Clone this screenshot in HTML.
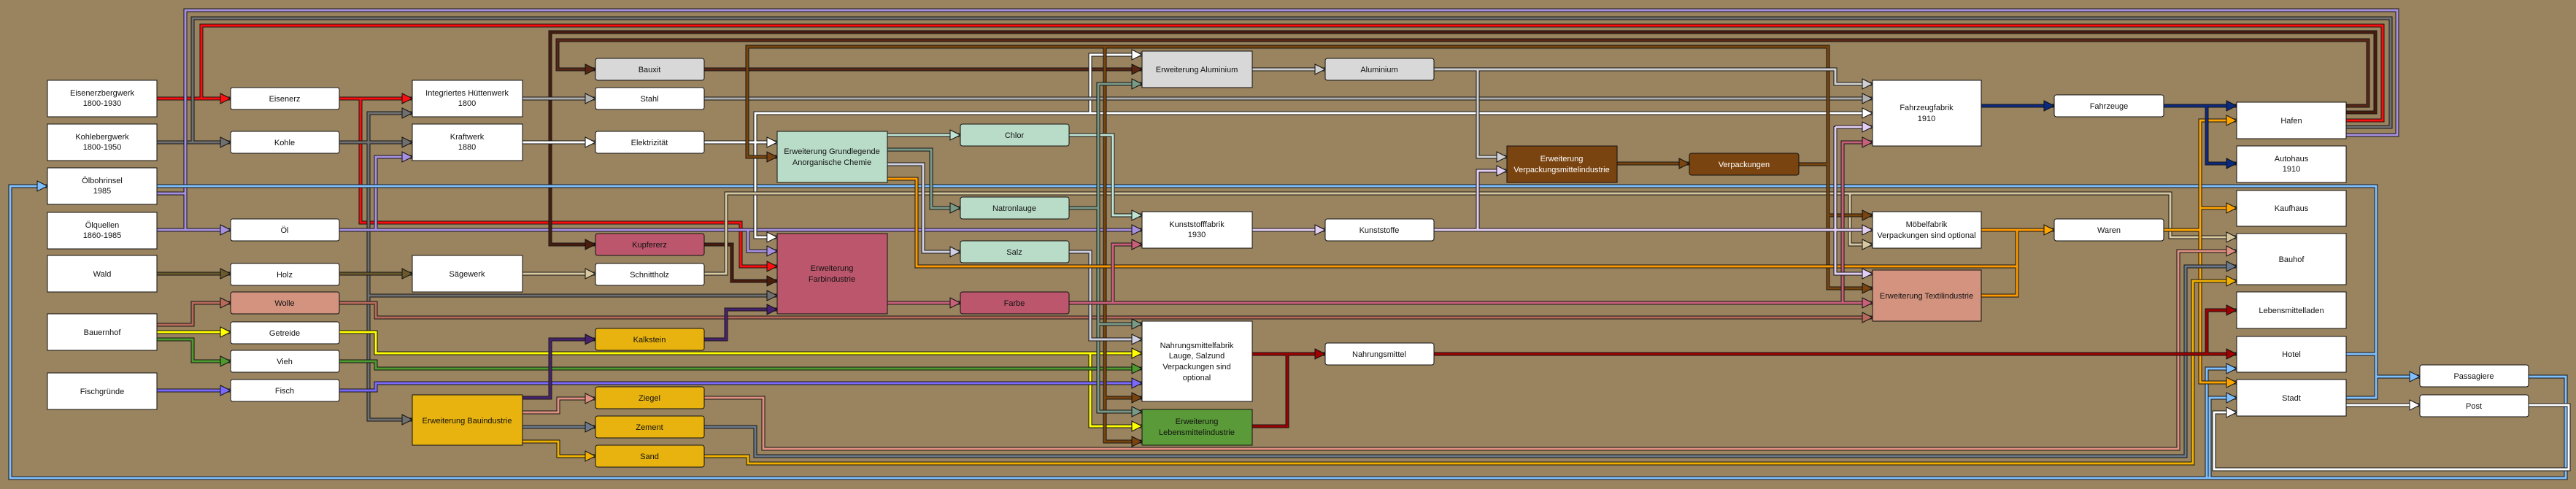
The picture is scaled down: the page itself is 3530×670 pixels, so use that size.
<!DOCTYPE html>
<html><head><meta charset="utf-8"><style>
html,body{margin:0;padding:0;background:#9a845f;}
svg{display:block}
.e path{fill:none;stroke-width:3;filter:url(#ol);stroke-linejoin:miter}
.a polygon{stroke:#111;stroke-width:1}
text{font-family:"Liberation Sans",sans-serif;font-size:11px;text-anchor:middle;fill:#111}
.n rect{stroke:#111;stroke-width:1}
.w{fill:#fff}
</style></head><body>
<svg width="3530" height="670" viewBox="0 0 3530 670" xmlns="http://www.w3.org/2000/svg">
<defs>
<filter id="ol" filterUnits="userSpaceOnUse" x="0" y="0" width="3530" height="670">
<feMorphology in="SourceAlpha" operator="dilate" radius="1" result="d"/>
<feFlood flood-color="#151515"/>
<feComposite in2="d" operator="in" result="o"/>
<feMerge><feMergeNode in="o"/><feMergeNode in="SourceGraphic"/></feMerge>
</filter>
</defs>
<rect width="3530" height="670" fill="#9a845f"/>
<g class="e">
<path stroke="#ff1010" d="M215 135H316M3215 165H3265V35H276V135M465 135H565M494 135V305H1015V365H1065"/>
<path stroke="#707070" d="M215 195H316M3215 174H3276V25H264V195M465 195H565M505 195V155H565M505 195V575H565M505 405H1065"/>
<path stroke="#a890e0" d="M3215 185H3285V14H254V315M215 265H254M215 315H316M465 315H1565M515 315V215H565M1025 315V344H1065"/>
<path stroke="#5a2614" d="M3215 145H3245V55H764V95H816M965 95H1565"/>
<path stroke="#4a1c0c" d="M3215 154H3255V44H754V335H816M965 335H1003V385H1065"/>
<path stroke="#80c0ff" d="M215 255H3256V545H3215M3256 516H3316M3215 485H3256M3465 516H3516V655H14V255H65M3024 655V505H3065M3028 655V545H3065"/>
<path stroke="#ffffff" d="M3215 555H3316M3465 555H3520V643H3034V565H3065M716 195H816M965 195H1065M1035 195V155H2566M1035 195V325H1065M1494 155V75H1565"/>
<path stroke="#6b5a2e" d="M215 375H316M465 375H565"/>
<path stroke="#d8c8a0" d="M716 375H816M965 375H995V265H2974V325H3065M2535 265V335H2566"/>
<path stroke="#b86a5a" d="M215 445H264V415H316M465 415H515V435H2566"/>
<path stroke="#ffff00" d="M215 455H316M465 455H515V484H1565M1494 484V584H1565"/>
<path stroke="#4f9a2f" d="M215 465H264V495H316M465 495H515V505H1565"/>
<path stroke="#7a6aff" d="M215 535H316M465 535H515V525H1565"/>
<path stroke="#b0b0b0" d="M716 135H816M965 135H2566"/>
<path stroke="#7a4410" d="M2216 224H2315M2465 225H2505V64H1024V215H1065M2505 225V395H2566M2505 295H2566M1514 64V605H1565M1514 545H1565"/>
<path stroke="#c0e4d4" d="M1216 185H1316M1465 185H1525V295H1565"/>
<path stroke="#7a9a88" d="M1216 205H1276V285H1316M1465 285H1505V115H1565M1505 285V564H1565M1505 444H1565"/>
<path stroke="#d0d0e0" d="M1216 225H1265V345H1316M1465 345H1494V465H1565"/>
<path stroke="#ff9900" d="M1216 245H1256V365H2764V315H2815M2715 315H2764M2715 405H2764V365"/>
<path stroke="#ffa500" d="M2965 315H3015V165H3065M3015 285H3065M3015 315V524H3065"/>
<path stroke="#c8607a" d="M1216 415H1316M1465 415H2566M1525 415V335H1565M2525 415V195H2566"/>
<path stroke="#4a2070" d="M965 465H995V424H1065M716 545H754V465H816"/>
<path stroke="#e09080" d="M716 565H765V546H816M965 545H1046V615H2985V344H3065"/>
<path stroke="#6a7888" d="M716 585H816M965 585H1035V625H2995V365H3065"/>
<path stroke="#f0b000" d="M716 605H765V625H816M965 625H1025V635H3005V385H3065"/>
<path stroke="#d0d0d0" d="M1716 95H1816M1965 95H2515V115H2566M2025 95V215H2065"/>
<path stroke="#e4cff4" d="M1716 315H1816M1965 315H2566M2025 315V234H2065M2515 174V375H2566M2515 174H2566"/>
<path stroke="#a00000" d="M1716 485H1816M1716 584H1764V485M1965 485H3065M3024 485V425H3065"/>
<path stroke="#0a2a80" d="M2715 145H2815M2965 145H3065M3024 145V224H3065"/>
</g>
<g class="a">
<!-- arrows: tip x,y -->
<polygon fill="#ff1010" points="302,128 316,135 302,142"/>
<polygon fill="#ff1010" points="551,128 565,135 551,142"/>
<polygon fill="#ff1010" points="1051,358 1065,365 1051,372"/>
<polygon fill="#707070" points="302,188 316,195 302,202"/>
<polygon fill="#707070" points="551,188 565,195 551,202"/>
<polygon fill="#707070" points="551,148 565,155 551,162"/>
<polygon fill="#707070" points="551,568 565,575 551,582"/>
<polygon fill="#707070" points="1051,398 1065,405 1051,412"/>
<polygon fill="#a890e0" points="302,308 316,315 302,322"/>
<polygon fill="#a890e0" points="1551,308 1565,315 1551,322"/>
<polygon fill="#a890e0" points="551,208 565,215 551,222"/>
<polygon fill="#a890e0" points="1051,337 1065,344 1051,351"/>
<polygon fill="#5a2614" points="802,88 816,95 802,102"/>
<polygon fill="#5a2614" points="1551,88 1565,95 1551,102"/>
<polygon fill="#4a1c0c" points="802,328 816,335 802,342"/>
<polygon fill="#4a1c0c" points="1051,378 1065,385 1051,392"/>
<polygon fill="#80c0ff" points="51,248 65,255 51,262"/>
<polygon fill="#80c0ff" points="3302,509 3316,516 3302,523"/>
<polygon fill="#80c0ff" points="3051,498 3065,505 3051,512"/>
<polygon fill="#80c0ff" points="3051,538 3065,545 3051,552"/>
<polygon fill="#ffffff" points="3302,548 3316,555 3302,562"/>
<polygon fill="#ffffff" points="3051,558 3065,565 3051,572"/>
<polygon fill="#ffffff" points="802,188 816,195 802,202"/>
<polygon fill="#ffffff" points="1051,188 1065,195 1051,202"/>
<polygon fill="#ffffff" points="2552,148 2566,155 2552,162"/>
<polygon fill="#ffffff" points="1051,318 1065,325 1051,332"/>
<polygon fill="#ffffff" points="1551,68 1565,75 1551,82"/>
<polygon fill="#6b5a2e" points="302,368 316,375 302,382"/>
<polygon fill="#6b5a2e" points="551,368 565,375 551,382"/>
<polygon fill="#d8c8a0" points="802,368 816,375 802,382"/>
<polygon fill="#d8c8a0" points="3051,318 3065,325 3051,332"/>
<polygon fill="#d8c8a0" points="2552,328 2566,335 2552,342"/>
<polygon fill="#b86a5a" points="302,408 316,415 302,422"/>
<polygon fill="#b86a5a" points="2552,428 2566,435 2552,442"/>
<polygon fill="#ffff00" points="302,448 316,455 302,462"/>
<polygon fill="#ffff00" points="1551,477 1565,484 1551,491"/>
<polygon fill="#ffff00" points="1551,577 1565,584 1551,591"/>
<polygon fill="#4f9a2f" points="302,488 316,495 302,502"/>
<polygon fill="#4f9a2f" points="1551,498 1565,505 1551,512"/>
<polygon fill="#7a6aff" points="302,528 316,535 302,542"/>
<polygon fill="#7a6aff" points="1551,518 1565,525 1551,532"/>
<polygon fill="#b0b0b0" points="802,128 816,135 802,142"/>
<polygon fill="#b0b0b0" points="2552,128 2566,135 2552,142"/>
<polygon fill="#7a4410" points="2301,217 2315,224 2301,231"/>
<polygon fill="#7a4410" points="1051,208 1065,215 1051,222"/>
<polygon fill="#7a4410" points="2552,388 2566,395 2552,402"/>
<polygon fill="#7a4410" points="2552,288 2566,295 2552,302"/>
<polygon fill="#7a4410" points="1551,598 1565,605 1551,612"/>
<polygon fill="#7a4410" points="1551,538 1565,545 1551,552"/>
<polygon fill="#c0e4d4" points="1302,178 1316,185 1302,192"/>
<polygon fill="#c0e4d4" points="1551,288 1565,295 1551,302"/>
<polygon fill="#7a9a88" points="1302,278 1316,285 1302,292"/>
<polygon fill="#7a9a88" points="1551,108 1565,115 1551,122"/>
<polygon fill="#7a9a88" points="1551,557 1565,564 1551,571"/>
<polygon fill="#7a9a88" points="1551,437 1565,444 1551,451"/>
<polygon fill="#d0d0e0" points="1302,338 1316,345 1302,352"/>
<polygon fill="#d0d0e0" points="1551,458 1565,465 1551,472"/>
<polygon fill="#ffa500" points="2801,308 2815,315 2801,322"/>
<polygon fill="#ffa500" points="3051,158 3065,165 3051,172"/>
<polygon fill="#ffa500" points="3051,278 3065,285 3051,292"/>
<polygon fill="#ffa500" points="3051,517 3065,524 3051,531"/>
<polygon fill="#c8607a" points="1302,408 1316,415 1302,422"/>
<polygon fill="#c8607a" points="2552,408 2566,415 2552,422"/>
<polygon fill="#c8607a" points="1551,328 1565,335 1551,342"/>
<polygon fill="#c8607a" points="2552,188 2566,195 2552,202"/>
<polygon fill="#4a2070" points="1051,417 1065,424 1051,431"/>
<polygon fill="#4a2070" points="802,458 816,465 802,472"/>
<polygon fill="#e09080" points="802,539 816,546 802,553"/>
<polygon fill="#e09080" points="3051,337 3065,344 3051,351"/>
<polygon fill="#6a7888" points="802,578 816,585 802,592"/>
<polygon fill="#6a7888" points="3051,358 3065,365 3051,372"/>
<polygon fill="#f0b000" points="802,618 816,625 802,632"/>
<polygon fill="#f0b000" points="3051,378 3065,385 3051,392"/>
<polygon fill="#d0d0d0" points="1802,88 1816,95 1802,102"/>
<polygon fill="#d0d0d0" points="2552,108 2566,115 2552,122"/>
<polygon fill="#d0d0d0" points="2051,208 2065,215 2051,222"/>
<polygon fill="#e4cff4" points="1802,308 1816,315 1802,322"/>
<polygon fill="#e4cff4" points="2552,308 2566,315 2552,322"/>
<polygon fill="#e4cff4" points="2051,227 2065,234 2051,241"/>
<polygon fill="#e4cff4" points="2552,368 2566,375 2552,382"/>
<polygon fill="#e4cff4" points="2552,167 2566,174 2552,181"/>
<polygon fill="#a00000" points="1802,478 1816,485 1802,492"/>
<polygon fill="#a00000" points="3051,478 3065,485 3051,492"/>
<polygon fill="#a00000" points="3051,418 3065,425 3051,432"/>
<polygon fill="#0a2a80" points="2801,138 2815,145 2801,152"/>
<polygon fill="#0a2a80" points="3051,138 3065,145 3051,152"/>
<polygon fill="#0a2a80" points="3051,217 3065,224 3051,231"/>
</g>
<g class="n">
<rect x="65" y="110" width="150" height="50" fill="#fff"/><text x="140" y="131">Eisenerzbergwerk</text><text x="140" y="145">1800-1930</text>
<rect x="65" y="170" width="150" height="50" fill="#fff"/><text x="140" y="191">Kohlebergwerk</text><text x="140" y="205">1800-1950</text>
<rect x="65" y="230" width="150" height="50" fill="#fff"/><text x="140" y="251">Ölbohrinsel</text><text x="140" y="265">1985</text>
<rect x="65" y="291" width="150" height="50" fill="#fff"/><text x="140" y="312">Ölquellen</text><text x="140" y="326">1860-1985</text>
<rect x="65" y="350" width="150" height="50" fill="#fff"/><text x="140" y="379">Wald</text>
<rect x="65" y="430" width="150" height="50" fill="#fff"/><text x="140" y="459">Bauernhof</text>
<rect x="65" y="511" width="150" height="50" fill="#fff"/><text x="140" y="540">Fischgründe</text>

<rect x="316" y="120" width="149" height="30" rx="3" fill="#fff"/><text x="390" y="139">Eisenerz</text>
<rect x="316" y="180" width="149" height="30" rx="3" fill="#fff"/><text x="390" y="199">Kohle</text>
<rect x="316" y="300" width="149" height="30" rx="3" fill="#fff"/><text x="390" y="319">Öl</text>
<rect x="316" y="361" width="149" height="30" rx="3" fill="#fff"/><text x="390" y="380">Holz</text>
<rect x="316" y="400" width="149" height="30" rx="3" fill="#d4937f"/><text x="390" y="419">Wolle</text>
<rect x="316" y="441" width="149" height="30" rx="3" fill="#fff"/><text x="390" y="460">Getreide</text>
<rect x="316" y="480" width="149" height="30" rx="3" fill="#fff"/><text x="390" y="499">Vieh</text>
<rect x="316" y="520" width="149" height="30" rx="3" fill="#fff"/><text x="390" y="539">Fisch</text>

<rect x="565" y="110" width="151" height="50" fill="#fff"/><text x="640" y="131">Integriertes Hüttenwerk</text><text x="640" y="145">1800</text>
<rect x="565" y="170" width="151" height="50" fill="#fff"/><text x="640" y="191">Kraftwerk</text><text x="640" y="205">1880</text>
<rect x="565" y="350" width="151" height="50" fill="#fff"/><text x="640" y="379">Sägewerk</text>
<rect x="565" y="541" width="151" height="69" fill="#e8b30f"/><text x="640" y="580">Erweiterung Bauindustrie</text>

<rect x="816" y="80" width="149" height="30" rx="3" fill="#d8d8d8"/><text x="890" y="99">Bauxit</text>
<rect x="816" y="120" width="149" height="30" rx="3" fill="#fff"/><text x="890" y="139">Stahl</text>
<rect x="816" y="180" width="149" height="30" rx="3" fill="#fff"/><text x="890" y="199">Elektrizität</text>
<rect x="816" y="320" width="149" height="30" rx="3" fill="#bc566c"/><text x="890" y="339">Kupfererz</text>
<rect x="816" y="361" width="149" height="30" rx="3" fill="#fff"/><text x="890" y="380">Schnittholz</text>
<rect x="816" y="450" width="149" height="30" rx="3" fill="#e8b30f"/><text x="890" y="469">Kalkstein</text>
<rect x="816" y="530" width="149" height="30" rx="3" fill="#e8b30f"/><text x="890" y="549">Ziegel</text>
<rect x="816" y="570" width="149" height="30" rx="3" fill="#e8b30f"/><text x="890" y="589">Zement</text>
<rect x="816" y="610" width="149" height="30" rx="3" fill="#e8b30f"/><text x="890" y="629">Sand</text>

<rect x="1065" y="180" width="151" height="70" fill="#b9dcc8"/><text x="1140" y="211">Erweiterung Grundlegende</text><text x="1140" y="226">Anorganische Chemie</text>
<rect x="1065" y="320" width="151" height="110" fill="#bc566c"/><text x="1140" y="371">Erweiterung</text><text x="1140" y="386">Farbindustrie</text>

<rect x="1316" y="170" width="149" height="30" rx="3" fill="#b9dcc8"/><text x="1390" y="189">Chlor</text>
<rect x="1316" y="270" width="149" height="30" rx="3" fill="#b9dcc8"/><text x="1390" y="289">Natronlauge</text>
<rect x="1316" y="330" width="149" height="30" rx="3" fill="#b9dcc8"/><text x="1390" y="349">Salz</text>
<rect x="1316" y="400" width="149" height="30" rx="3" fill="#bc566c"/><text x="1390" y="419">Farbe</text>

<rect x="1565" y="70" width="151" height="50" fill="#d8d8d8"/><text x="1640" y="99">Erweiterung Aluminium</text>
<rect x="1565" y="290" width="151" height="50" fill="#fff"/><text x="1640" y="311">Kunststofffabrik</text><text x="1640" y="325">1930</text>
<rect x="1565" y="440" width="151" height="110" fill="#fff"/><text x="1640" y="477">Nahrungsmittelfabrik</text><text x="1640" y="491">Lauge, Salzund</text><text x="1640" y="506">Verpackungen sind</text><text x="1640" y="521">optional</text>
<rect x="1565" y="561" width="151" height="49" fill="#5a9a38"/><text x="1640" y="581">Erweiterung</text><text x="1640" y="596">Lebensmittelindustrie</text>

<rect x="1816" y="80" width="149" height="30" rx="3" fill="#d8d8d8"/><text x="1890" y="99">Aluminium</text>
<rect x="1816" y="300" width="149" height="30" rx="3" fill="#fff"/><text x="1890" y="319">Kunststoffe</text>
<rect x="1816" y="470" width="149" height="30" rx="3" fill="#fff"/><text x="1890" y="489">Nahrungsmittel</text>

<rect x="2065" y="200" width="151" height="50" fill="#7a4410"/><text class="w" x="2140" y="221">Erweiterung</text><text class="w" x="2140" y="236">Verpackungsmittelindustrie</text>
<rect x="2315" y="210" width="150" height="30" rx="3" fill="#7a4410"/><text class="w" x="2390" y="229">Verpackungen</text>

<rect x="2566" y="110" width="149" height="90" fill="#fff"/><text x="2640" y="151">Fahrzeugfabrik</text><text x="2640" y="166">1910</text>
<rect x="2566" y="290" width="149" height="50" fill="#fff"/><text x="2640" y="311">Möbelfabrik</text><text x="2640" y="326">Verpackungen sind optional</text>
<rect x="2566" y="370" width="149" height="70" fill="#d4937f"/><text x="2640" y="409">Erweiterung Textilindustrie</text>

<rect x="2815" y="130" width="150" height="30" rx="3" fill="#fff"/><text x="2890" y="149">Fahrzeuge</text>
<rect x="2815" y="300" width="150" height="30" rx="3" fill="#fff"/><text x="2890" y="319">Waren</text>

<rect x="3065" y="140" width="150" height="50" fill="#fff"/><text x="3140" y="169">Hafen</text>
<rect x="3065" y="200" width="150" height="50" fill="#fff"/><text x="3140" y="221">Autohaus</text><text x="3140" y="235">1910</text>
<rect x="3065" y="261" width="150" height="49" fill="#fff"/><text x="3140" y="289">Kaufhaus</text>
<rect x="3065" y="320" width="150" height="70" fill="#fff"/><text x="3140" y="359">Bauhof</text>
<rect x="3065" y="400" width="150" height="50" fill="#fff"/><text x="3140" y="429">Lebensmittelladen</text>
<rect x="3065" y="461" width="150" height="49" fill="#fff"/><text x="3140" y="489">Hotel</text>
<rect x="3065" y="520" width="150" height="50" fill="#fff"/><text x="3140" y="549">Stadt</text>

<rect x="3316" y="500" width="149" height="30" rx="3" fill="#fff"/><text x="3390" y="519">Passagiere</text>
<rect x="3316" y="541" width="149" height="30" rx="3" fill="#fff"/><text x="3390" y="560">Post</text>
</g>
</svg>
</body></html>
